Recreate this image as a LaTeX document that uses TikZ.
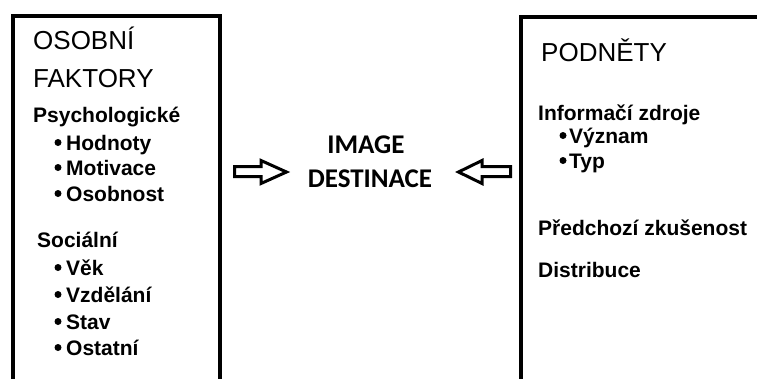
\documentclass[tikz,border=0pt]{standalone}
\usepackage{fontspec}
\setmainfont{Liberation Sans}
\newfontfamily\calib{Carlito}
\begin{document}
\begin{tikzpicture}[x=1pt,y=-1pt,
  frame/.style={line width=4pt},
  head/.style={anchor=base west,inner sep=0,font=\fontsize{26}{30}\selectfont},
  item/.style={anchor=base west,inner sep=0,font=\bfseries\fontsize{21}{25}\selectfont},
  center/.style={anchor=base,inner sep=0,font=\calib\bfseries\fontsize{27}{32}\selectfont},
  dot/.style={circle,fill=black,inner sep=0,minimum size=7pt},
  blockarrow/.style={line width=3pt,line join=miter,fill=white}]
\useasboundingbox (0,0) rectangle (757,378);
\clip (0,0) rectangle (757,378);
% boxes
\draw[frame] (12.5,390) -- (12.5,16) -- (220,16) -- (220,390);
\draw[frame] (770,16.5) -- (520.5,16.5) -- (520.5,390);
% left box
\node[head] (osobni) at (33,49) {OSOBNÍ};
\node[head] (faktory) at (33,87) {FAKTORY};
\node[item] (psych) at (33,122) {Psychologické};
\node[item] (hodnoty) at (66,150) {Hodnoty};
\node[item] (motivace) at (66,175) {Motivace};
\node[item] (osobnost) at (66,201) {Osobnost};
\node[dot] (b1) at (58,142.5) {};
\node[dot] (b2) at (58,167.5) {};
\node[dot] (b3) at (58,193.5) {};
\node[item] (socialni) at (37,247) {Sociální};
\node[item] (vek) at (66,275) {Věk};
\node[item] (vzdelani) at (66,302) {Vzdělání};
\node[item] (stav) at (66,329) {Stav};
\node[item] (ostatni) at (66,355) {Ostatní};
\node[dot] (b4) at (58,267.5) {};
\node[dot] (b5) at (58,294.5) {};
\node[dot] (b6) at (58,321.5) {};
\node[dot] (b7) at (58,347.5) {};
% right box
\node[head] (podnety) at (541,61) {PODNĚTY};
\node[item] (info) at (538,120) {Informačí zdroje};
\node[item] (vyznam) at (569,143) {Význam};
\node[item] (typ) at (569,168) {Typ};
\node[dot] (b8) at (563,135.5) {};
\node[dot] (b9) at (563,160.5) {};
\node[item] (predchozi) at (538,235) {Předchozí zkušenost};
\node[item] (distribuce) at (538,277) {Distribuce};
% centre
\node[center] (image) at (366,153) {IMAGE};
\node[center] (destinace) at (370,187) {DESTINACE};
% block arrows
\draw[blockarrow] (234.5,166.5) -- (261,166.5) -- (261,160.5) -- (286.5,172) -- (261,183.5) -- (261,176.5) -- (234.5,176.5) -- cycle;
\draw[blockarrow] (510.5,166.5) -- (482,166.5) -- (482,160.5) -- (458.5,172) -- (482,183.5) -- (482,176.5) -- (510.5,176.5) -- cycle;
\end{tikzpicture}
\end{document}
